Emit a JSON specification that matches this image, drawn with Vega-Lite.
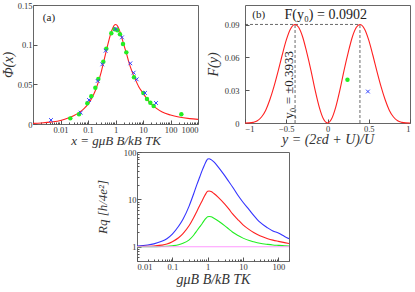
{
  "$schema": "https://vega.github.io/schema/vega-lite/v6.json",
  "padding": {"left": 0, "top": 0, "right": 2, "bottom": 0},
  "background": "white",
  "bounds": "full",
  "spacing": -1,
  "datasets": {
    "phiCurve": [
      {"x": 0.001, "phi": 0.0008}, {"x": 0.002, "phi": 0.0013}, {"x": 0.005, "phi": 0.0027},
      {"x": 0.01, "phi": 0.0045}, {"x": 0.02, "phi": 0.0078}, {"x": 0.03, "phi": 0.0105},
      {"x": 0.05, "phi": 0.015}, {"x": 0.07, "phi": 0.019}, {"x": 0.1, "phi": 0.025},
      {"x": 0.15, "phi": 0.035}, {"x": 0.2, "phi": 0.045}, {"x": 0.3, "phi": 0.065},
      {"x": 0.4, "phi": 0.083}, {"x": 0.5, "phi": 0.097}, {"x": 0.6, "phi": 0.108},
      {"x": 0.7, "phi": 0.116}, {"x": 0.8, "phi": 0.121}, {"x": 0.9, "phi": 0.1245},
      {"x": 1.0, "phi": 0.1255}, {"x": 1.1, "phi": 0.125}, {"x": 1.25, "phi": 0.122},
      {"x": 1.5, "phi": 0.115}, {"x": 2, "phi": 0.1}, {"x": 2.5, "phi": 0.089},
      {"x": 3, "phi": 0.079}, {"x": 4, "phi": 0.066}, {"x": 5, "phi": 0.058},
      {"x": 7, "phi": 0.047}, {"x": 10, "phi": 0.039}, {"x": 15, "phi": 0.03},
      {"x": 20, "phi": 0.025}, {"x": 30, "phi": 0.02}, {"x": 50, "phi": 0.015},
      {"x": 100, "phi": 0.0113}, {"x": 200, "phi": 0.0088}, {"x": 500, "phi": 0.0068},
      {"x": 1000, "phi": 0.0058}
    ],
    "phiGreen": [
      {"x": 0.0227, "phi": 0.0071}, {"x": 0.0471, "phi": 0.0122}, {"x": 0.0946, "phi": 0.0261},
      {"x": 0.132, "phi": 0.0349}, {"x": 0.185, "phi": 0.0458}, {"x": 0.238, "phi": 0.0567},
      {"x": 0.361, "phi": 0.0786}, {"x": 0.464, "phi": 0.095}, {"x": 0.705, "phi": 0.1143},
      {"x": 0.933, "phi": 0.1193}, {"x": 1.166, "phi": 0.1181}, {"x": 1.458, "phi": 0.113},
      {"x": 1.874, "phi": 0.1008}, {"x": 2.477, "phi": 0.0903}, {"x": 4.71, "phi": 0.0588},
      {"x": 10.3, "phi": 0.0391}, {"x": 13.97, "phi": 0.0315}, {"x": 18.5, "phi": 0.0269},
      {"x": 24.4, "phi": 0.0227}, {"x": 248, "phi": 0.0122}
    ],
    "phiBlue": [
      {"x": 0.0045, "phi": 0.005}, {"x": 0.054, "phi": 0.0143}, {"x": 0.1086, "phi": 0.0303},
      {"x": 0.225, "phi": 0.0542}, {"x": 0.332, "phi": 0.0752}, {"x": 0.438, "phi": 0.0924},
      {"x": 1.01, "phi": 0.1197}, {"x": 1.72, "phi": 0.1092}, {"x": 3.46, "phi": 0.0765},
      {"x": 4.58, "phi": 0.0647}, {"x": 5.89, "phi": 0.0563}, {"x": 11.8, "phi": 0.0391},
      {"x": 29.7, "phi": 0.0265}
    ],
    "fCurve": [
      {"y": -1, "F": 0}, {"y": -0.95, "F": 0.0001}, {"y": -0.9, "F": 0.0006}, {"y": -0.85, "F": 0.002},
      {"y": -0.8, "F": 0.0055}, {"y": -0.75, "F": 0.0115}, {"y": -0.7, "F": 0.021}, {"y": -0.65, "F": 0.033},
      {"y": -0.6, "F": 0.047}, {"y": -0.55, "F": 0.062}, {"y": -0.5, "F": 0.0759}, {"y": -0.45, "F": 0.0859},
      {"y": -0.3933, "F": 0.0902}, {"y": -0.35, "F": 0.0876}, {"y": -0.3, "F": 0.0785}, {"y": -0.25, "F": 0.0642},
      {"y": -0.2, "F": 0.048}, {"y": -0.15, "F": 0.03}, {"y": -0.1, "F": 0.0145}, {"y": -0.05, "F": 0.0038},
      {"y": 0, "F": 0},
      {"y": 0.05, "F": 0.0038}, {"y": 0.1, "F": 0.0145}, {"y": 0.15, "F": 0.03}, {"y": 0.2, "F": 0.048},
      {"y": 0.25, "F": 0.0642}, {"y": 0.3, "F": 0.0785}, {"y": 0.35, "F": 0.0876}, {"y": 0.3933, "F": 0.0902},
      {"y": 0.45, "F": 0.0859}, {"y": 0.5, "F": 0.0759}, {"y": 0.55, "F": 0.062}, {"y": 0.6, "F": 0.047},
      {"y": 0.65, "F": 0.033}, {"y": 0.7, "F": 0.021}, {"y": 0.75, "F": 0.0115}, {"y": 0.8, "F": 0.0055},
      {"y": 0.85, "F": 0.002}, {"y": 0.9, "F": 0.0006}, {"y": 0.95, "F": 0.0001}, {"y": 1, "F": 0}
    ],
    "fDash": [
      {"y": -1, "F": 0.0902, "y2": 0.3933, "F2": 0.0902},
      {"y": -0.3933, "F": 0, "y2": -0.3933, "F2": 0.0902},
      {"y": 0.3933, "F": 0, "y2": 0.3933, "F2": 0.0902}
    ],
    "rq": [
      {"x": 0.01, "s": "blue", "R": 1.04}, {"x": 0.02, "s": "blue", "R": 1.09}, {"x": 0.03, "s": "blue", "R": 1.15},
      {"x": 0.05, "s": "blue", "R": 1.3}, {"x": 0.07, "s": "blue", "R": 1.48}, {"x": 0.1, "s": "blue", "R": 1.85},
      {"x": 0.15, "s": "blue", "R": 2.7}, {"x": 0.2, "s": "blue", "R": 3.8}, {"x": 0.3, "s": "blue", "R": 7.3},
      {"x": 0.4, "s": "blue", "R": 13}, {"x": 0.5, "s": "blue", "R": 21}, {"x": 0.6, "s": "blue", "R": 30},
      {"x": 0.7, "s": "blue", "R": 41}, {"x": 0.8, "s": "blue", "R": 52}, {"x": 0.9, "s": "blue", "R": 63},
      {"x": 1, "s": "blue", "R": 71}, {"x": 1.1, "s": "blue", "R": 72}, {"x": 1.25, "s": "blue", "R": 69},
      {"x": 1.5, "s": "blue", "R": 62}, {"x": 2, "s": "blue", "R": 48}, {"x": 3, "s": "blue", "R": 32},
      {"x": 4, "s": "blue", "R": 23.5}, {"x": 5, "s": "blue", "R": 18.5}, {"x": 7, "s": "blue", "R": 12.5},
      {"x": 10, "s": "blue", "R": 8.7}, {"x": 15, "s": "blue", "R": 6.0}, {"x": 20, "s": "blue", "R": 4.6},
      {"x": 30, "s": "blue", "R": 3.3}, {"x": 50, "s": "blue", "R": 2.5}, {"x": 70, "s": "blue", "R": 2.15},
      {"x": 100, "s": "blue", "R": 1.95}, {"x": 150, "s": "blue", "R": 1.65}, {"x": 200, "s": "blue", "R": 1.48},
      {"x": 0.01, "s": "red", "R": 1.01}, {"x": 0.02, "s": "red", "R": 1.02}, {"x": 0.03, "s": "red", "R": 1.04},
      {"x": 0.05, "s": "red", "R": 1.08}, {"x": 0.07, "s": "red", "R": 1.14}, {"x": 0.1, "s": "red", "R": 1.28},
      {"x": 0.15, "s": "red", "R": 1.55}, {"x": 0.2, "s": "red", "R": 1.9}, {"x": 0.3, "s": "red", "R": 2.8},
      {"x": 0.4, "s": "red", "R": 4.1}, {"x": 0.5, "s": "red", "R": 5.7}, {"x": 0.6, "s": "red", "R": 7.5},
      {"x": 0.7, "s": "red", "R": 9.4}, {"x": 0.8, "s": "red", "R": 11.5}, {"x": 0.9, "s": "red", "R": 13.4},
      {"x": 1, "s": "red", "R": 14.8}, {"x": 1.1, "s": "red", "R": 15.0}, {"x": 1.25, "s": "red", "R": 14.6},
      {"x": 1.5, "s": "red", "R": 13.3}, {"x": 2, "s": "red", "R": 11}, {"x": 3, "s": "red", "R": 8},
      {"x": 4, "s": "red", "R": 6.2}, {"x": 5, "s": "red", "R": 5.0}, {"x": 7, "s": "red", "R": 3.8},
      {"x": 10, "s": "red", "R": 2.9}, {"x": 15, "s": "red", "R": 2.3}, {"x": 20, "s": "red", "R": 2.0},
      {"x": 30, "s": "red", "R": 1.7}, {"x": 50, "s": "red", "R": 1.48}, {"x": 70, "s": "red", "R": 1.38},
      {"x": 100, "s": "red", "R": 1.3}, {"x": 150, "s": "red", "R": 1.22}, {"x": 200, "s": "red", "R": 1.17},
      {"x": 0.01, "s": "green", "R": 1.0}, {"x": 0.03, "s": "green", "R": 1.005}, {"x": 0.05, "s": "green", "R": 1.01},
      {"x": 0.1, "s": "green", "R": 1.05}, {"x": 0.15, "s": "green", "R": 1.1}, {"x": 0.2, "s": "green", "R": 1.18},
      {"x": 0.3, "s": "green", "R": 1.4}, {"x": 0.4, "s": "green", "R": 1.75}, {"x": 0.5, "s": "green", "R": 2.2},
      {"x": 0.6, "s": "green", "R": 2.65}, {"x": 0.7, "s": "green", "R": 3.1}, {"x": 0.8, "s": "green", "R": 3.6},
      {"x": 0.9, "s": "green", "R": 4.0}, {"x": 1, "s": "green", "R": 4.28}, {"x": 1.1, "s": "green", "R": 4.35},
      {"x": 1.25, "s": "green", "R": 4.3}, {"x": 1.5, "s": "green", "R": 4.0}, {"x": 2, "s": "green", "R": 3.5},
      {"x": 3, "s": "green", "R": 2.8}, {"x": 4, "s": "green", "R": 2.35}, {"x": 5, "s": "green", "R": 2.05},
      {"x": 7, "s": "green", "R": 1.75}, {"x": 10, "s": "green", "R": 1.52}, {"x": 15, "s": "green", "R": 1.35},
      {"x": 20, "s": "green", "R": 1.27}, {"x": 30, "s": "green", "R": 1.18}, {"x": 50, "s": "green", "R": 1.12},
      {"x": 70, "s": "green", "R": 1.09}, {"x": 100, "s": "green", "R": 1.07}, {"x": 150, "s": "green", "R": 1.05},
      {"x": 200, "s": "green", "R": 1.04},
      {"x": 0.01, "s": "pink", "R": 1.0}, {"x": 200, "s": "pink", "R": 1.0}
    ]
  },
  "vconcat": [
    {
      "hconcat": [
        {
          "width": 165,
          "height": 119,
          "layer": [
            {
              "data": {"name": "phiCurve"},
              "mark": {"type": "line", "color": "#ff2020", "strokeWidth": 1.1, "interpolate": "monotone", "clip": true},
              "encoding": {
                "x": {
                  "field": "x", "type": "quantitative",
                  "scale": {"type": "log", "domain": [0.001, 1000]},
                  "axis": {
                    "title": "x = gμB B/kB TK",
                    "titleFontSize": 13,
                    "titlePadding": -1,
                    "values": [0.001,0.002,0.003,0.004,0.005,0.006,0.007,0.008,0.009,0.01,0.02,0.03,0.04,0.05,0.06,0.07,0.08,0.09,0.1,0.2,0.3,0.4,0.5,0.6,0.7,0.8,0.9,1,2,3,4,5,6,7,8,9,10,20,30,40,50,60,70,80,90,100,200,300,400,500,600,700,800,900,1000],
                    "labelExpr": "(abs(log(datum.value)/LN10 - round(log(datum.value)/LN10)) < 1e-6 && datum.value > 0.002) ? format(datum.value, '~g') : ''",
                    "tickSize": {"condition": {"test": "abs(log(datum.value)/LN10 - round(log(datum.value)/LN10)) < 1e-6", "value": -4}, "value": -2}
                  }
                },
                "y": {
                  "field": "phi", "type": "quantitative",
                  "scale": {"domain": [0, 0.15], "nice": false},
                  "axis": {"title": "Φ(x)", "values": [0, 0.05, 0.1, 0.15], "tickCount": 20, "format": "~g", "labelOverlap": false, "tickSize": -4}
                }
              }
            },
            {
              "data": {"name": "phiGreen"},
              "mark": {"type": "point", "filled": true, "color": "#22ee22", "size": 20, "opacity": 1},
              "encoding": {"x": {"field": "x", "type": "quantitative"}, "y": {"field": "phi", "type": "quantitative"}}
            },
            {
              "data": {"name": "phiBlue"},
              "mark": {"type": "point", "shape": "M-1,-1L1,1M-1,1L1,-1", "filled": false, "color": "#3344ff", "size": 14, "strokeWidth": 1, "opacity": 1},
              "encoding": {"x": {"field": "x", "type": "quantitative"}, "y": {"field": "phi", "type": "quantitative"}}
            },
            {
              "data": {"values": [{"x": 0.0038, "phi": 0.133, "t": "(a)"}]},
              "mark": {"type": "text", "font": "Liberation Serif", "fontSize": 11, "color": "#222"},
              "encoding": {"x": {"field": "x", "type": "quantitative"}, "y": {"field": "phi", "type": "quantitative"}, "text": {"field": "t"}}
            }
          ]
        },
        {
          "width": 165,
          "height": 118,
          "layer": [
            {
              "data": {"name": "fDash"},
              "mark": {"type": "rule", "color": "#444", "strokeWidth": 0.8, "strokeDash": [3, 2]},
              "encoding": {
                "x": {"field": "y", "type": "quantitative"},
                "y": {"field": "F", "type": "quantitative"},
                "x2": {"field": "y2"},
                "y2": {"field": "F2"}
              }
            },
            {
              "data": {"name": "fCurve"},
              "mark": {"type": "line", "color": "#ff2020", "strokeWidth": 1.1, "interpolate": "monotone"},
              "encoding": {
                "x": {
                  "field": "y", "type": "quantitative",
                  "scale": {"domain": [-1, 1]},
                  "axis": {"title": "y = (2εd + U)/U", "titlePadding": 0, "values": [-1, -0.5, 0, 0.5, 1], "tickCount": 20, "labelExpr": "format(datum.value, '~g')", "tickSize": -4}
                },
                "y": {
                  "field": "F", "type": "quantitative",
                  "scale": {"domain": [0, 0.108], "nice": false},
                  "axis": {"title": "F(y)", "values": [0, 0.03, 0.06, 0.09], "tickCount": 20, "format": "~g", "labelOverlap": false, "tickSize": -4, "labelPadding": 10, "titlePadding": 4}
                }
              }
            },
            {
              "data": {"values": [{"y": 0.242, "F": 0.0395}]},
              "mark": {"type": "point", "filled": true, "color": "#22ee22", "size": 20, "opacity": 1},
              "encoding": {"x": {"field": "y", "type": "quantitative"}, "y": {"field": "F", "type": "quantitative"}}
            },
            {
              "data": {"values": [{"y": 0.49, "F": 0.0288}]},
              "mark": {"type": "point", "shape": "M-1,-1L1,1M-1,1L1,-1", "filled": false, "color": "#3344ff", "size": 14, "strokeWidth": 1, "opacity": 1},
              "encoding": {"x": {"field": "y", "type": "quantitative"}, "y": {"field": "F", "type": "quantitative"}}
            },
            {
              "data": {"values": [{"y": -0.833, "F": 0.0992, "t": "(b)"}]},
              "mark": {"type": "text", "font": "Liberation Serif", "fontSize": 11, "color": "#222"},
              "encoding": {"x": {"field": "y", "type": "quantitative"}, "y": {"field": "F", "type": "quantitative"}, "text": {"field": "t"}}
            },
            {
              "data": {"values": [{"y": -0.022, "F": 0.0992, "t": "F(y₀) = 0.0902"}]},
              "mark": {"type": "text", "font": "Liberation Serif", "fontSize": 14, "color": "#222"},
              "encoding": {"x": {"field": "y", "type": "quantitative"}, "y": {"field": "F", "type": "quantitative"}, "text": {"field": "t"}}
            },
            {
              "data": {"values": [{"y": -0.47, "F": 0.035, "t": "y₀ = ±0.3933"}]},
              "mark": {"type": "text", "font": "Liberation Serif", "fontSize": 13, "color": "#222", "angle": 270},
              "encoding": {"x": {"field": "y", "type": "quantitative"}, "y": {"field": "F", "type": "quantitative"}, "text": {"field": "t"}}
            }
          ]
        }
      ],
      "bounds": "flush",
      "spacing": 47
    },
    {
      "hconcat": [
        {
          "width": 84,
          "height": 10,
          "view": {"stroke": null},
          "data": {"values": []},
          "mark": "point"
        },
        {
          "width": 152,
          "height": 109,
          "data": {"name": "rq"},
          "mark": {"type": "line", "strokeWidth": 1.1, "interpolate": "monotone", "clip": true},
          "encoding": {
            "x": {
              "field": "x", "type": "quantitative",
              "scale": {"type": "log", "domain": [0.01, 200]},
              "axis": {
                "title": "gμB B/kB TK",
                "titlePadding": 0,
                "values": [0.01,0.02,0.03,0.04,0.05,0.06,0.07,0.08,0.09,0.1,0.2,0.3,0.4,0.5,0.6,0.7,0.8,0.9,1,2,3,4,5,6,7,8,9,10,20,30,40,50,60,70,80,90,100,200],
                "labelExpr": "abs(log(datum.value)/LN10 - round(log(datum.value)/LN10)) < 1e-6 ? format(datum.value, '~g') : ''",
                "tickSize": {"condition": {"test": "abs(log(datum.value)/LN10 - round(log(datum.value)/LN10)) < 1e-6", "value": -4}, "value": -2}
              }
            },
            "y": {
              "field": "R", "type": "quantitative",
              "scale": {"type": "log", "domain": [0.5, 100]},
              "axis": {
                "title": "Rq  [h/4e²]",
                "titleFontSize": 13,
                "titlePadding": 14,
                "values": [0.5,0.6,0.7,0.8,0.9,1,2,3,4,5,6,7,8,9,10,20,30,40,50,60,70,80,90,100],
                "labelExpr": "abs(log(datum.value)/LN10 - round(log(datum.value)/LN10)) < 1e-6 ? format(datum.value, '~g') : ''",
                "tickSize": {"condition": {"test": "abs(log(datum.value)/LN10 - round(log(datum.value)/LN10)) < 1e-6", "value": -4}, "value": -2}
              }
            },
            "color": {
              "field": "s", "type": "nominal", "legend": null,
              "scale": {"domain": ["blue", "red", "green", "pink"], "range": ["#3333ff", "#ff2020", "#22ee22", "#ff99ff"]}
            }
          }
        }
      ],
      "bounds": "flush",
      "spacing": 20
    }
  ],
  "config": {
    "font": "Liberation Serif",
    "view": {"stroke": "#666", "strokeWidth": 1},
    "axis": {
      "grid": false,
      "domain": false,
      "tickColor": "#555",
      "labelFont": "Liberation Serif",
      "labelFontSize": 8.5,
      "labelColor": "#333",
      "labelPadding": 5,
      "labelOverlap": false,
      "titleFont": "Liberation Serif",
      "titleFontStyle": "italic",
      "titleFontWeight": "normal",
      "titleFontSize": 14,
      "titleColor": "#333",
      "titlePadding": 2
    }
  }
}
